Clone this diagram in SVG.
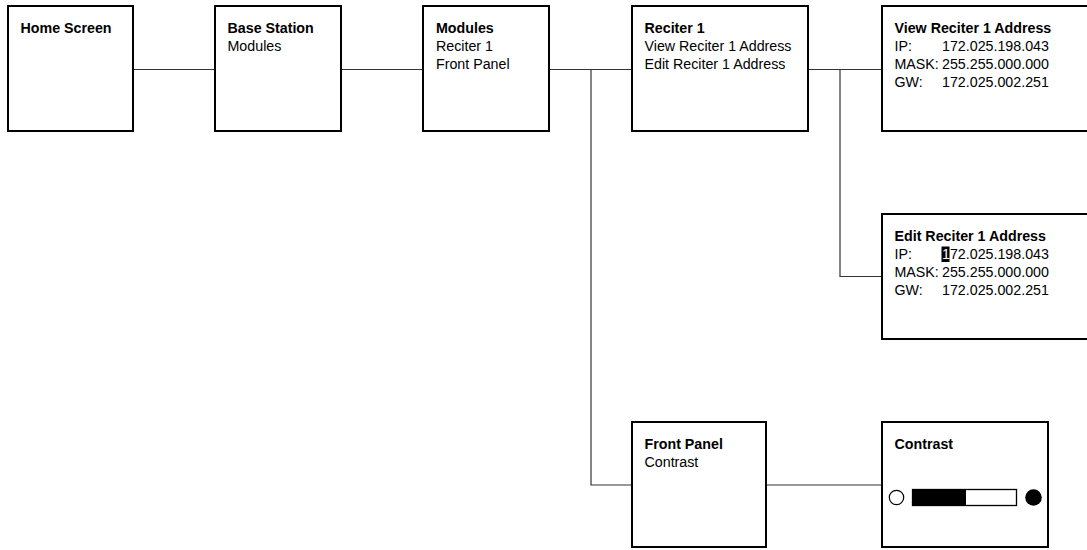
<svg xmlns="http://www.w3.org/2000/svg" width="1087" height="550" viewBox="0 0 1087 550">
<style>
.box{fill:#fff;stroke:#000;stroke-width:2}
.con{fill:none;stroke:#333;stroke-width:1.2}
text{font-family:"Liberation Sans",Arial,sans-serif;font-size:15.5px;fill:#000}
.t{font-weight:bold}
</style>
<rect width="1087" height="550" fill="#fff"/>
<g id="connectors">
<path class="con" d="M133 69.5H215"/>
<path class="con" d="M341 69.5H423"/>
<path class="con" d="M549 69.5H632"/>
<path class="con" d="M591 69.5V485H632"/>
<path class="con" d="M808 69.5H882"/>
<path class="con" d="M840 69.5V276.5H882"/>
<path class="con" d="M766 485H882"/>
</g>
<g id="home">
<rect class="box" x="8" y="6" width="125" height="125"/>
<text class="t" transform="matrix(.92 0 0 1 20.5 33.3)">Home Screen</text>
</g>
<g id="base">
<rect class="box" x="215" y="6" width="126" height="125"/>
<text class="t" transform="matrix(.92 0 0 1 227.5 33.3)">Base Station</text>
<text transform="matrix(.92 0 0 1 227.5 51.1)">Modules</text>
</g>
<g id="modules">
<rect class="box" x="423" y="6" width="126" height="125"/>
<text class="t" transform="matrix(.92 0 0 1 436 33.3)">Modules</text>
<text transform="matrix(.92 0 0 1 436 51.1)">Reciter 1</text>
<text transform="matrix(.92 0 0 1 436 68.9)">Front Panel</text>
</g>
<g id="reciter1">
<rect class="box" x="632" y="6" width="176" height="125"/>
<text class="t" transform="matrix(.92 0 0 1 644.5 33.3)">Reciter 1</text>
<text transform="matrix(.92 0 0 1 644.5 51.1)">View Reciter 1 Address</text>
<text transform="matrix(.92 0 0 1 644.5 68.9)">Edit Reciter 1 Address</text>
</g>
<g id="view">
<rect class="box" x="882" y="6" width="230" height="125"/>
<text class="t" transform="matrix(.92 0 0 1 894.5 33.3)">View Reciter 1 Address</text>
<text transform="matrix(.92 0 0 1 894.5 51.1)">IP:</text>
<text transform="matrix(.92 0 0 1 942 51.1)">172.025.198.043</text>
<text transform="matrix(.92 0 0 1 894.5 68.9)">MASK:</text>
<text transform="matrix(.92 0 0 1 942 68.9)">255.255.000.000</text>
<text transform="matrix(.92 0 0 1 894.5 86.7)">GW:</text>
<text transform="matrix(.92 0 0 1 942 86.7)">172.025.002.251</text>
</g>
<g id="edit">
<rect class="box" x="882" y="214" width="230" height="125"/>
<text class="t" transform="matrix(.92 0 0 1 894.5 241.3)">Edit Reciter 1 Address</text>
<text transform="matrix(.92 0 0 1 894.5 259.1)">IP:</text>
<rect x="941.5" y="246.5" width="8" height="15.5" fill="#000"/>
<text transform="matrix(.92 0 0 1 942 259.1)"><tspan fill="#fff">1</tspan>72.025.198.043</text>
<text transform="matrix(.92 0 0 1 894.5 276.9)">MASK:</text>
<text transform="matrix(.92 0 0 1 942 276.9)">255.255.000.000</text>
<text transform="matrix(.92 0 0 1 894.5 294.7)">GW:</text>
<text transform="matrix(.92 0 0 1 942 294.7)">172.025.002.251</text>
</g>
<g id="frontpanel">
<rect class="box" x="632" y="422" width="134" height="125"/>
<text class="t" transform="matrix(.92 0 0 1 644.5 449.3)">Front Panel</text>
<text transform="matrix(.92 0 0 1 644.5 467.1)">Contrast</text>
</g>
<g id="contrast">
<rect class="box" x="882" y="422" width="166" height="125"/>
<text class="t" transform="matrix(.92 0 0 1 894.5 449.3)">Contrast</text>
<circle cx="896.5" cy="497.5" r="7.2" fill="#fff" stroke="#000" stroke-width="1.2"/>
<rect x="912.5" y="489.5" width="104" height="16" fill="#fff" stroke="#000" stroke-width="1.3"/>
<rect x="912.5" y="489.5" width="53.5" height="16" fill="#000"/>
<circle cx="1033.5" cy="497.5" r="8.3" fill="#000"/>
</g>
</svg>
